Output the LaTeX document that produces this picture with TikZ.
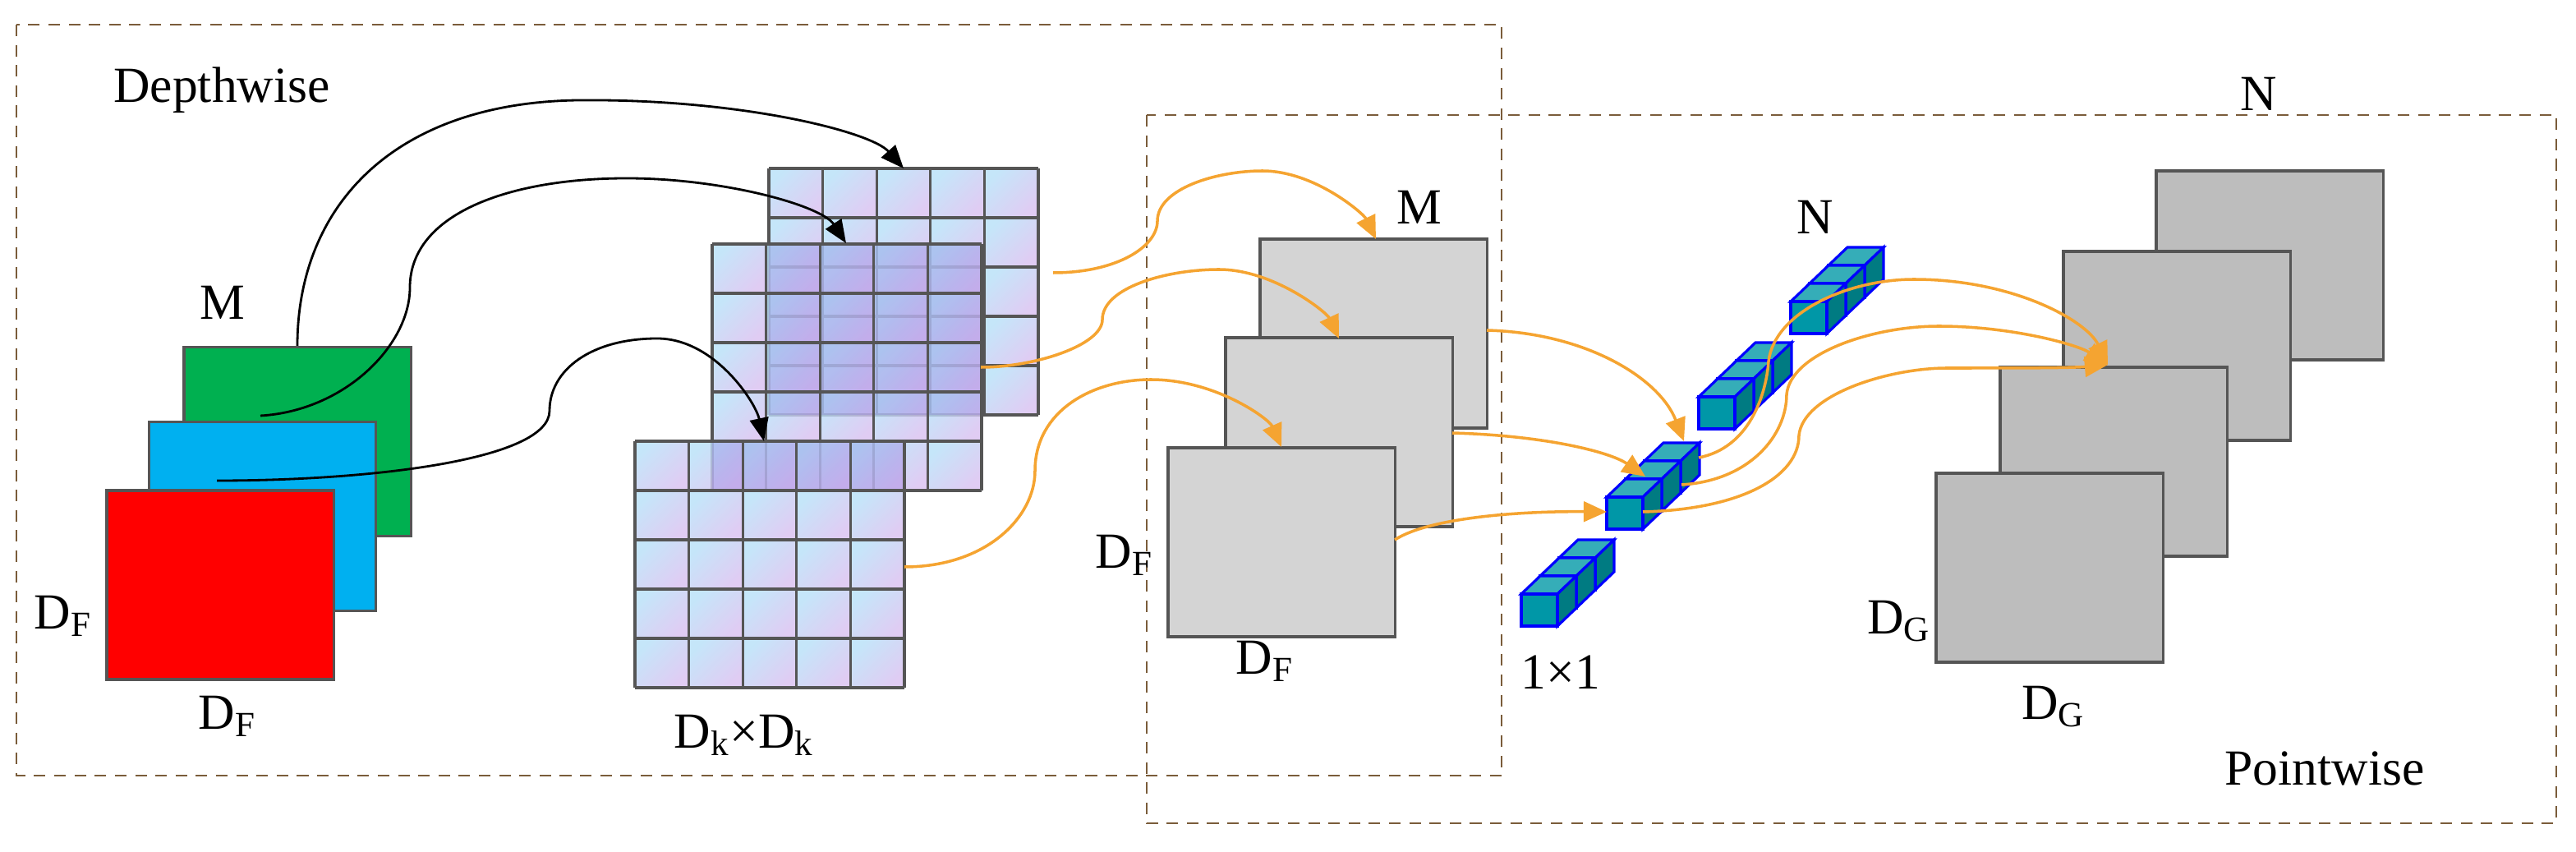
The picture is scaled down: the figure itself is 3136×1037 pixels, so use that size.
\documentclass[tikz,border=0pt]{standalone}
\usepackage{fontspec}
\setmainfont{Liberation Serif}
\usetikzlibrary{arrows.meta}
\definecolor{orng}{HTML}{F5A431}
\definecolor{boxc}{HTML}{7A5C3A}
\definecolor{edge}{HTML}{555555}
\definecolor{cfront}{HTML}{0097A7}
\definecolor{ctop}{HTML}{35ADB8}
\definecolor{cside}{HTML}{007B82}
\definecolor{gA}{HTML}{D4D4D4}
\definecolor{gB}{HTML}{BDBDBD}
\definecolor{fgreen}{HTML}{00B050}
\definecolor{fblue}{HTML}{00B0F0}
\definecolor{cellA}{HTML}{B6E0F8}
\definecolor{cellB}{HTML}{D8BFF0}
\definecolor{tint}{HTML}{7A60D8}
\tikzset{
  lbl/.style={font=\fontsize{17.5}{20}\selectfont, inner sep=0pt},
  sq/.style={draw=edge, line width=0.9pt, minimum width=2.76cm, minimum height=2.30cm, inner sep=0pt, outer sep=0pt},
  dbox/.style={draw=boxc, line width=0.7pt, dash pattern=on 4pt off 3pt},
  blk/.style={line width=0.8pt, -{Triangle[length=8pt,width=6.5pt]}},
  org/.style={orng, line width=1pt, -{Triangle[length=8pt,width=7pt]}},
  cell/.style={opacity=0.8, left color=cellA, right color=cellB, shading angle=45},
  gline/.style={edge, line width=0.9pt},
  ovl/.style={fill=tint, opacity=0.22},
}
\newcommand{\mycells}[2]{%
  \foreach \i in {0,...,4}{\foreach \j in {0,...,4}{
    \shade[cell] ({#1+65.6*\i},{#2+60*\j}) rectangle ({#1+65.6*(\i+1)},{#2+60*(\j+1)});
  }}
}
\newcommand{\mylines}[2]{%
  \foreach \i in {0,...,5}{\draw[gline] ({#1+65.6*\i},#2) -- ({#1+65.6*\i},{#2+300});}
  \foreach \j in {0,...,5}{\draw[gline] (#1,{#2+60*\j}) -- ({#1+328},{#2+60*\j});}
}
\newcommand{\myrod}[2]{%
  \foreach \k in {2,1,0}{
    \pgfmathsetmacro{\xa}{#1+23*\k}\pgfmathsetmacro{\ya}{#2-22*\k}
    \filldraw[fill=ctop, draw=blue, line width=0.9pt] (\xa,\ya) -- ({\xa+23},{\ya-22}) -- ({\xa+67},{\ya-22}) -- ({\xa+44},\ya) -- cycle;
    \filldraw[fill=cside, draw=blue, line width=0.9pt] ({\xa+44},\ya) -- ({\xa+67},{\ya-22}) -- ({\xa+67},{\ya+17}) -- ({\xa+44},{\ya+39}) -- cycle;
    \filldraw[fill=cfront, draw=blue, line width=0.9pt] (\xa,\ya) rectangle ({\xa+44},{\ya+39});
  }
}
\begin{document}
\begin{tikzpicture}[x=0.01cm, y=-0.01cm]
\useasboundingbox (0,0) rectangle (3136,1037);
% dashed boxes
\draw[dbox] (20,30) rectangle (1828,944);
\draw[dbox] (1396,140) rectangle (3112,1002);
% input maps
\node[sq, fill=fgreen] (green) at (362,537.5) {};
\node[sq, fill=fblue] (blue) at (319.5,628.5) {};
\node[sq, fill=red] (red) at (268,712) {};
% kernels
\mycells{936}{205}\mylines{936}{205}
\mycells{867}{297}
\fill[ovl] (936,297) rectangle (1195,505);
\mylines{867}{297}
\mycells{773}{537}
\fill[ovl] (867,537) rectangle (1101,597);
\mylines{773}{537}
\coordinate (kb) at (1100,205);
\coordinate (km) at (1030,296);
\coordinate (kf) at (930,537);
% middle gray maps
\node[sq, fill=gA] (mb) at (1672,406) {};
\node[sq, fill=gA] (mm) at (1630,526) {};
\node[sq, fill=gA] (mf) at (1560,660) {};
% rods
\myrod{1852}{723}
\myrod{1956}{605}
\myrod{2068}{483}
\myrod{2180}{367}
% right maps
\node[sq, fill=gB] (r1) at (2763,323) {};
\node[sq, fill=gB] (r2) at (2650,421) {};
\node[sq, fill=gB] (r3) at (2573,562) {};
\node[sq, fill=gB] (r4) at (2495,691) {};
% black arrows
\coordinate (s1) at (362,421);
\coordinate (s2) at (317,506);
\coordinate (s3) at (264,585);
\draw[blk] (s1) .. controls (362,250) and (480,125) .. (704,122) .. controls (900,120) and (1060,160) .. (kb);
\draw[blk] (s2) .. controls (420,500) and (499,420) .. (499,350) .. controls (499,260) and (620,217) .. (763,217) .. controls (880,217) and (1000,250) .. (km);
\draw[blk] (s3) .. controls (450,585) and (669,560) .. (669,500) .. controls (669,450) and (720,412) .. (800,412) .. controls (870,412) and (920,490) .. (kf);
% orange arrows kernels -> gray
\coordinate (ka) at (1282,332);
\coordinate (kc) at (1194,447);
\coordinate (ke) at (1101,690);
\draw[org] (ka) .. controls (1360,332) and (1409,300) .. (1409,269) .. controls (1409,230) and (1480,208) .. (1537,208) .. controls (1600,208) and (1660,260) .. (1675,291);
\draw[org] (kc) .. controls (1260,447) and (1342,420) .. (1342,389) .. controls (1342,350) and (1420,328) .. (1484,328) .. controls (1550,328) and (1615,380) .. (1630,412);
\draw[org] (ke) .. controls (1200,690) and (1260,630) .. (1260,573) .. controls (1260,500) and (1330,462) .. (1401,462) .. controls (1480,462) and (1545,510) .. (1560,544);
% orange gray -> rods
\coordinate (ra) at (2050,537);
\coordinate (rb) at (2003,580);
\coordinate (rc) at (1956,623);
\draw[org] (1810,402) .. controls (1930,405) and (2020,460) .. (ra);
\draw[org] (1768,527) .. controls (1880,530) and (1960,550) .. (rb);
\draw[org] (1698,657) .. controls (1740,630) and (1850,622) .. (rc);
% orange rods -> right
\coordinate (t) at (2566,444);
\draw[org] (2068,557) .. controls (2130,545) and (2150,480) .. (2153,440) .. controls (2160,380) and (2250,340) .. (2330,340) .. controls (2450,340) and (2540,390) .. (t);
\draw[org] (2047,590) .. controls (2130,585) and (2175,530) .. (2175,480) .. controls (2180,430) and (2280,397) .. (2360,397) .. controls (2450,397) and (2530,420) .. (t);
\draw[org] (2000,623) .. controls (2120,620) and (2190,580) .. (2190,530) .. controls (2195,480) and (2300,448) .. (2370,448) .. controls (2450,448) and (2520,448) .. (t);
% labels
\node[lbl] (tdw) at (270,110) {Depthwise};
\node[lbl] (tpw) at (2830,935) {Pointwise};
\node[lbl] (tm1) at (271,368) {M};
\node[lbl] (tdf1) at (77,750) {D\textsubscript{F}};
\node[lbl] (tdf2) at (277,872) {D\textsubscript{F}};
\node[lbl] (tdk) at (906,895) {D\textsubscript{k}×D\textsubscript{k}};
\node[lbl] (tm2) at (1728,252) {M};
\node[lbl] (tdf3) at (1369,676) {D\textsubscript{F}};
\node[lbl] (tdf4) at (1540,805) {D\textsubscript{F}};
\node[lbl] (tn1) at (2210,264) {N};
\node[lbl] (t11) at (1900,818) {1×1};
\node[lbl] (tn2) at (2750,114) {N};
\node[lbl] (tdg1) at (2312,756) {D\textsubscript{G}};
\node[lbl] (tdg2) at (2500,860) {D\textsubscript{G}};
\end{tikzpicture}
\end{document}
